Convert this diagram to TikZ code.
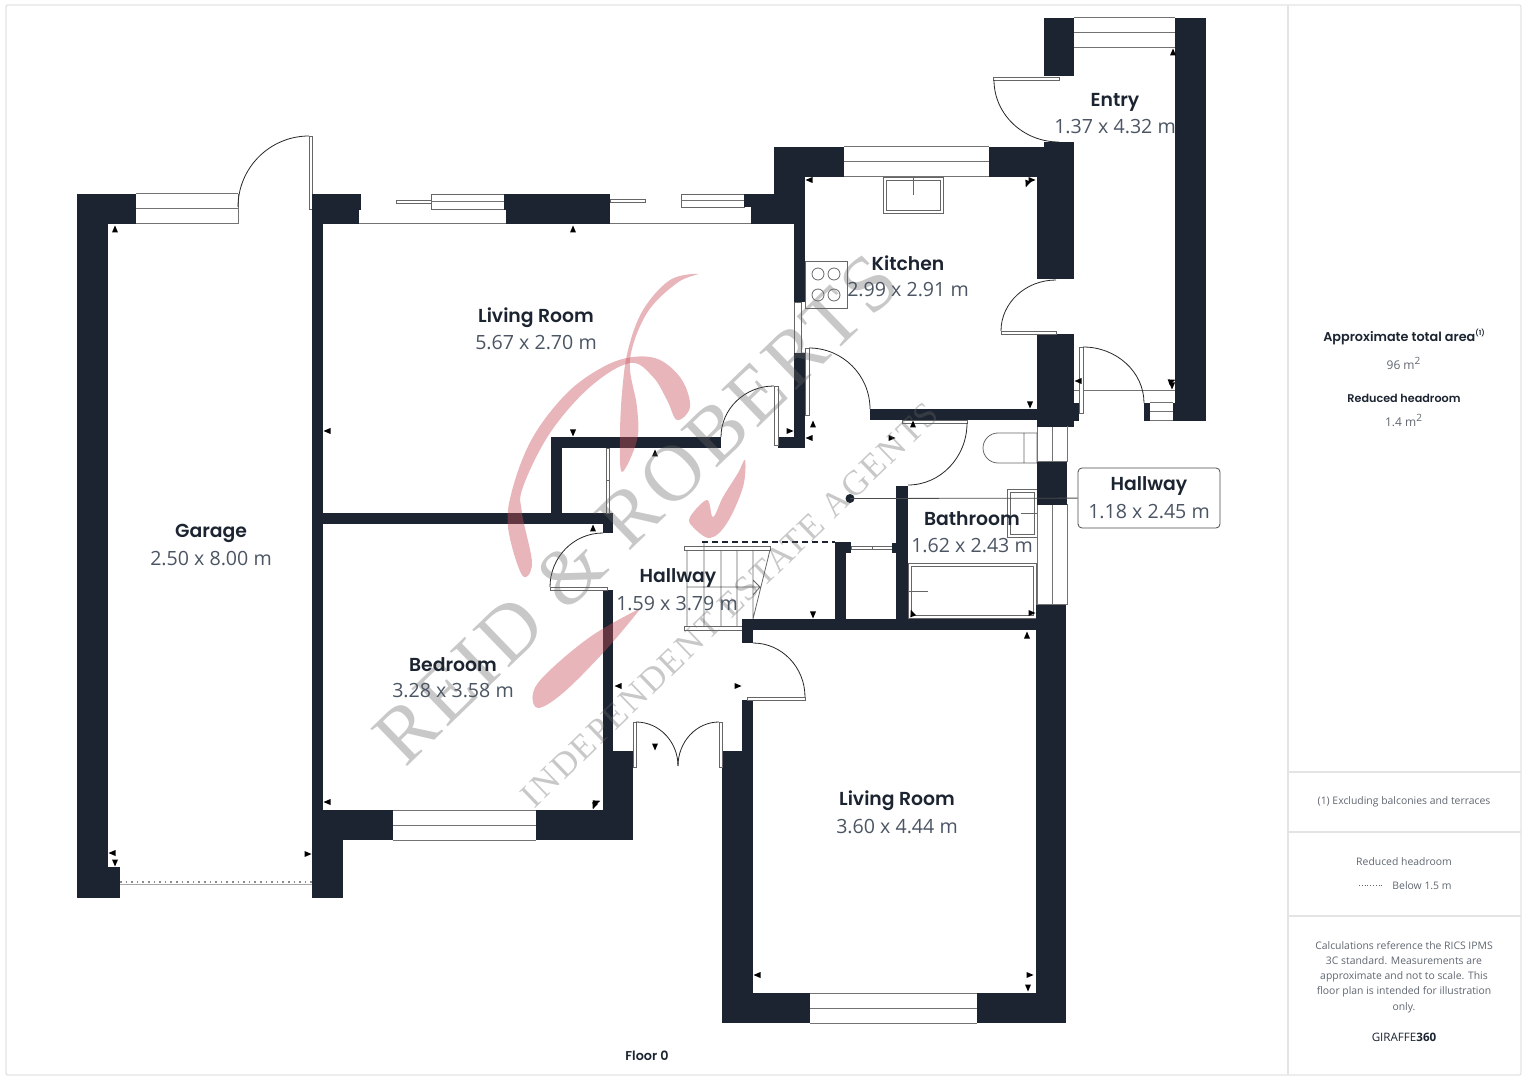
\documentclass[tikz,border=0pt]{standalone}
\usepackage{fontspec}
\setmainfont{Open Sans}
\newfontfamily\headfont{Poppins SemiBold}
\newfontfamily\markfont[LetterSpace=5.5]{Liberation Serif}
\usetikzlibrary{calc}

\definecolor{wallcol}{HTML}{1B2430}
\definecolor{dimcol}{HTML}{4B5563}
\definecolor{framecol}{HTML}{E4E4E4}
\definecolor{sidecol}{HTML}{5F6670}
\definecolor{pinkcol}{HTML}{C8505A}

\tikzset{
	wallfill/.style={fill=wallcol,draw=none},
	winline/.style={draw=black!55,line width=0.5pt},
	fitting/.style={draw=black!60,line width=0.4pt},
	swingline/.style={draw=black!85,line width=0.4pt},
	panel/.style={draw=black!60,fill=white,line width=0.4pt},
	roomname/.style={font=\headfont\fontsize{9.4}{12}\selectfont,text=wallcol,inner sep=0pt,yshift=-0.7pt},
	roomsize/.style={font=\fontsize{9.8}{12}\selectfont,text=dimcol,inner sep=0pt,yshift=-0.4pt},
	sidehead/.style={font=\headfont\fontsize{6.4}{8}\selectfont,text=wallcol,inner sep=0pt},
	sidetext/.style={font=\fontsize{6}{7.6}\selectfont,text=sidecol,inner sep=0pt,align=center,yshift=-0.5pt},
	markpink/.style={fill=pinkcol,opacity=0.42,draw=none},
	markgrey/.style={text=black!60,opacity=0.36,inner sep=0pt}
}

% rectangle of wall, window with its middle line, quarter door swing
\newcommand{\wall}[4]{\fill[wallfill] (#1,#2) rectangle (#3,#4);}
\newcommand{\win}[4]{
	\draw[winline] (#1,#2) -- (#3,#2) (#1,#4) -- (#3,#4) (#1,{(#2+#4)/2}) -- (#3,{(#2+#4)/2});
}
\newcommand{\swing}[3]{\draw[swingline] (#1) .. controls ($(#1)!.552!(#2)$) and ($(#3)!.552!(#2)$) .. (#3);}

\begin{document}
\begin{tikzpicture}[x=0.5pt,y=-0.5pt]
	\useasboundingbox (0,0) rectangle (1527,1080);

	% frame and side panel
	\draw[framecol,line width=0.7pt,rounded corners=1pt] (6,5) rectangle (1521,1075);
	\draw[framecol,line width=0.7pt] (1288,5) -- (1288,1075)
		(1288,772) -- (1521,772) (1288,832) -- (1521,832) (1288,916) -- (1521,916);

	% garage
	\wall{77}{194}{136}{224}
	\wall{77}{194}{108}{898}
	\wall{77}{867}{120}{898}
	\win{136}{194}{238}{224}
	\draw[winline] (238,194) -- (238,224);
	\draw[panel] (309,136) rectangle (312,209);
	\swing{309,136}{238,136}{238,207}
	\draw[black!45,line width=0.8pt,dotted] (120,882) -- (312,882);
	\draw[black!35,line width=0.3pt] (120,884.5) -- (312,884.5);

	% wall garage / living room, bedroom
	\wall{312}{194}{361}{210}
	\wall{312}{210}{359}{224}
	\wall{312}{194}{323}{898}
	\wall{312}{810}{343}{898}
	\wall{312}{810}{393}{840}
	\win{393}{810}{536}{840}
	\wall{536}{810}{633}{840}
	\wall{603}{751}{633}{840}
	\wall{603}{590}{613}{760}
	\wall{312}{513}{613}{524}
	\wall{603}{513}{613}{533}

	% living room top
	\draw[winline] (359,224) -- (506,224) (610,224) -- (751,224);
	\draw[panel] (396,200) rectangle (431,203);
	\draw[panel] (431,194) rectangle (504,209);
	\draw[winline] (431,202) -- (504,202);
	\wall{504}{194}{610}{210}
	\wall{506}{210}{610}{224}
	\draw[panel] (610,199) rectangle (645,202);
	\draw[panel] (681,194) rectangle (744,207);
	\draw[winline] (681,201) -- (744,201);
	\wall{744}{194}{774}{207}
	\wall{751}{207}{805}{224}

	% kitchen
	\wall{774}{147}{844}{177}
	\wall{774}{147}{805}{224}
	\win{844}{147}{989}{177}
	\wall{989}{147}{1074}{177}
	\wall{1044}{142}{1074}{177}
	\wall{1037}{177}{1074}{279}
	\wall{1037}{334}{1074}{427}
	\wall{1074}{403}{1079}{421}
	\wall{794}{224}{805}{302}
	\draw[panel] (794,302) rectangle (801,353);
	\wall{794}{353}{805}{448}
	\wall{778}{437}{805}{448}
	\wall{870}{409}{1037}{420}
	\draw[panel] (883,177) rectangle (943,213);
	\draw[fitting] (886,180) rectangle (940,210) (913,177) -- (913,195);
	\draw[fitting] (805,261) rectangle (847,308);
	\foreach \x in {818,834}
		\foreach \y in {274,295}
			\draw[fitting] (\x,\y) circle[radius=6];
	\draw[panel] (805,348) rectangle (809,415);
	\swing{809,348}{870,348}{870,409}
	\draw[panel] (1001,331) rectangle (1056,334);
	\swing{1001,331}{1001,280}{1056,280}

	% entry
	\wall{1044}{18}{1074}{76}
	\win{1074}{18}{1175}{48}
	\wall{1175}{18}{1206}{421}
	\wall{1173}{403}{1206}{421}
	\wall{1144}{403}{1150}{421}
	\draw[winline] (1150,403) -- (1173,403) (1150,412) -- (1173,412) (1150,421) -- (1173,421);
	\draw[winline] (1074,391) -- (1175,391);
	\draw[panel] (993,77) rectangle (1059,80);
	\swing{994,80}{994,142}{1059,142}
	\draw[panel] (1079,347) rectangle (1083,413);
	\swing{1083,347}{1144,347}{1144,403}

	% hallway walls
	\wall{551}{437}{721}{448}
	\wall{551}{437}{562}{517}
	\draw[panel] (606,448) rectangle (609,513);
	\draw[fitting] (606,480) -- (609,480);
	\draw[panel] (774,386) rectangle (778,445);
	\swing{774,386}{721,386}{721,437}
	\draw[panel] (550,587) rectangle (607,590);
	\swing{550,587}{550,533}{603,533}

	% stairs
	\draw[panel] (684,546) rectangle (770,550);
	\draw[panel] (684,626) rectangle (742,630);
	\draw[fitting] (687,550) -- (687,626) (704,542) -- (704,626) (721,550) -- (721,626)
		(737,550) -- (737,626) (753,550) -- (753,619) (770,550) -- (753,619)
		(687,587) -- (760,587) (753,580) -- (760,587) -- (753,595);
	\draw[wallcol,line width=0.6pt,densely dashed] (702,542) -- (835,542);

	% cupboard and bathroom
	\wall{835}{542}{846}{620}
	\wall{835}{542}{851}{553}
	\draw[panel] (851,546) rectangle (893,549);
	\draw[fitting] (872,546) -- (872,549);
	\wall{892}{543}{908}{553}
	\wall{896}{486}{908}{620}
	\wall{742}{619}{1037}{630}
	\wall{742}{619}{753}{643}
	\draw[panel] (902,420) rectangle (967,423);
	\swing{967,423}{967,485}{908,485}
	\draw[fitting] (1024,433) rectangle (1037,463)
		(1024,433) -- (998,433) arc[start angle=270,end angle=90,radius=15] -- (1024,463);
	\draw[fitting] (1007,489) rectangle (1037,537) (1010,492) rectangle (1034,534) (1021,513) -- (1037,513);
	\draw[fitting] (908,563) rectangle (1036,618) (911,566) rectangle (1033,615) (908,591) -- (928,591);
	\draw[winline] (1037,427) rectangle (1067,462) (1052,427) -- (1052,462);
	\draw[winline] (1037,505) rectangle (1067,605) (1052,505) -- (1052,605);
	\wall{1037}{409}{1067}{427}
	\wall{1037}{462}{1067}{505}

	% lower living room
	\wall{742}{700}{753}{760}
	\wall{722}{751}{753}{1023}
	\wall{1036}{605}{1066}{1023}
	\wall{722}{993}{810}{1023}
	\wall{977}{993}{1066}{1023}
	\win{810}{993}{977}{1023}
	\draw[panel] (747,697) rectangle (805,700);
	\swing{805,697}{805,643}{753,643}

	% front doors
	\draw[panel] (633,722) rectangle (636,767);
	\draw[panel] (719,722) rectangle (722,767);
	\swing{636,722}{678,722}{678,766}
	\swing{719,722}{678,722}{678,766}

	% dimension marks
	\foreach \x/\y/\a in {115/229/90,112/853/180,115/863/270,308/854/0,
		573/229/90,327/431/180,573/433/270,790/431/0,
		809/180/180,1032/180/0,1027/184/250,1030/405/270,
		1173/52/90,1078/381/180,1172/381/20,1172/386/270,
		327/802/180,597/802/20,594/806/250,
		593/528/90,655/453/90,809/438/180,813/424/90,892/438/0,913/424/90,
		813/615/270,1027/635/90,618/686/180,738/686/0,655/747/270,
		912/613/110,1032/613/0,757/975/180,1030/975/0,1028/988/270}
		\fill[black,shift={(\x,\y)},rotate=\a] (3.5,0) -- (-3.5,-3) -- (-3.5,3) -- cycle;

	% watermark
	\fill[markpink] plot[smooth cycle,tension=0.6] coordinates {(698,274) (670,280) (643,310) (628,350) (622,393) (620,437) (622,472) (637,440) (637,407) (630,360) (647,313) (677,283)};
	\fill[markpink] plot[smooth cycle,tension=0.6] coordinates {(522,575) (508,527) (513,487) (533,437) (567,393) (603,367) (633,357) (660,360) (682,380) (690,407) (677,420) (667,400) (653,377) (630,363) (590,387) (550,433) (523,487) (522,513) (532,563)};
	\fill[markpink] plot[smooth cycle,tension=0.6] coordinates {(745,460) (743,487) (727,523) (710,538) (693,527) (690,517) (707,500) (713,517) (723,497) (738,473)};
	\fill[markpink] plot[smooth cycle,tension=0.6] coordinates {(637,610) (590,637) (547,673) (533,693) (538,708) (563,693) (603,653) (637,613)};
	\node[markgrey,rotate=44,font=\markfont\fontsize{40}{40}\selectfont] (MarkName) at (636,509) {REID \& ROBERTS};
	\node[markgrey,rotate=44,font=\markfont\fontsize{17.5}{18}\selectfont] (MarkLine) at (730,605) {INDEPENDENT ESTATE AGENTS};

	% hallway tag
	\node[draw=black!70,fill=white,rounded corners=2pt,line width=0.4pt,minimum width=71pt,minimum height=30pt,inner sep=0pt] (HallTag) at (1149,498) {};
	\fill[wallcol] (850,498.5) circle[radius=4.5] coordinate (HallDot);
	\draw[black!70,line width=0.4pt] (HallDot) -- (HallTag);

	% room labels
	\node[roomname] (GarageName) at (211,532) {Garage};
	\node[roomsize] (GarageSize) at (211,558) {2.50 x 8.00 m};
	\node[roomname] (LivingName) at (536,316) {Living Room};
	\node[roomsize] (LivingSize) at (536,342) {5.67 x 2.70 m};
	\node[roomname] (KitchenName) at (908,262) {Kitchen};
	\node[roomsize] (KitchenSize) at (908,289) {2.99 x 2.91 m};
	\node[roomname] (EntryName) at (1115,101) {Entry};
	\node[roomsize] (EntrySize) at (1115,126) {1.37 x 4.32 m};
	\node[roomname] (HallName) at (678,577) {Hallway};
	\node[roomsize] (HallSize) at (677,603) {1.59 x 3.79 m};
	\node[roomname] (BathName) at (972,517) {Bathroom};
	\node[roomsize] (BathSize) at (972,545) {1.62 x 2.43 m};
	\node[roomname] (BedName) at (453,663) {Bedroom};
	\node[roomsize] (BedSize) at (453,690) {3.28 x 3.58 m};
	\node[roomname] (LoungeName) at (897,799) {Living Room};
	\node[roomsize] (LoungeSize) at (897,826) {3.60 x 4.44 m};
	\node[roomname] (TagName) at (1149,485) {Hallway};
	\node[roomsize] (TagSize) at (1149,511) {1.18 x 2.45 m};
	\node[sidehead,yshift=-0.3pt] (FloorName) at (647,1055) {Floor 0};

	% side panel texts
	\node[sidehead] (AreaHead) at (1404,337) {Approximate total area\raisebox{3pt}{\fontsize{3.5}{4}\selectfont(1)}};
	\node[sidetext] (AreaText) at (1404,362) {96 m\textsuperscript{2}};
	\node[sidehead,font=\headfont\fontsize{5.6}{8}\selectfont] (HeadHead) at (1404,398) {Reduced headroom};
	\node[sidetext] (HeadText) at (1404,419) {1.4 m\textsuperscript{2}};
	\node[sidetext,font=\fontsize{5.2}{7}\selectfont] (NoteText) at (1404,801) {(1) Excluding balconies and terraces};
	\node[sidetext,font=\fontsize{5.2}{7}\selectfont] (LegendHead) at (1404,861) {Reduced headroom};
	\draw[sidecol,line width=0.4pt,densely dotted] (1359,885) -- (1384,885);
	\node[sidetext,font=\fontsize{5.2}{7}\selectfont] (LegendText) at (1422,885) {Below 1.5 m};
	\node[sidetext,font=\fontsize{5.2}{7.6}\selectfont] (CalcText) at (1404,976) {Calculations reference the RICS IPMS\\3C standard. Measurements are\\approximate and not to scale. This\\floor plan is intended for illustration\\only.};
	\node[sidetext,font=\fontsize{5.8}{7}\selectfont,text=wallcol] (BrandText) at (1404,1036) {GIRAFFE\textbf{360}};
\end{tikzpicture}
\end{document}
